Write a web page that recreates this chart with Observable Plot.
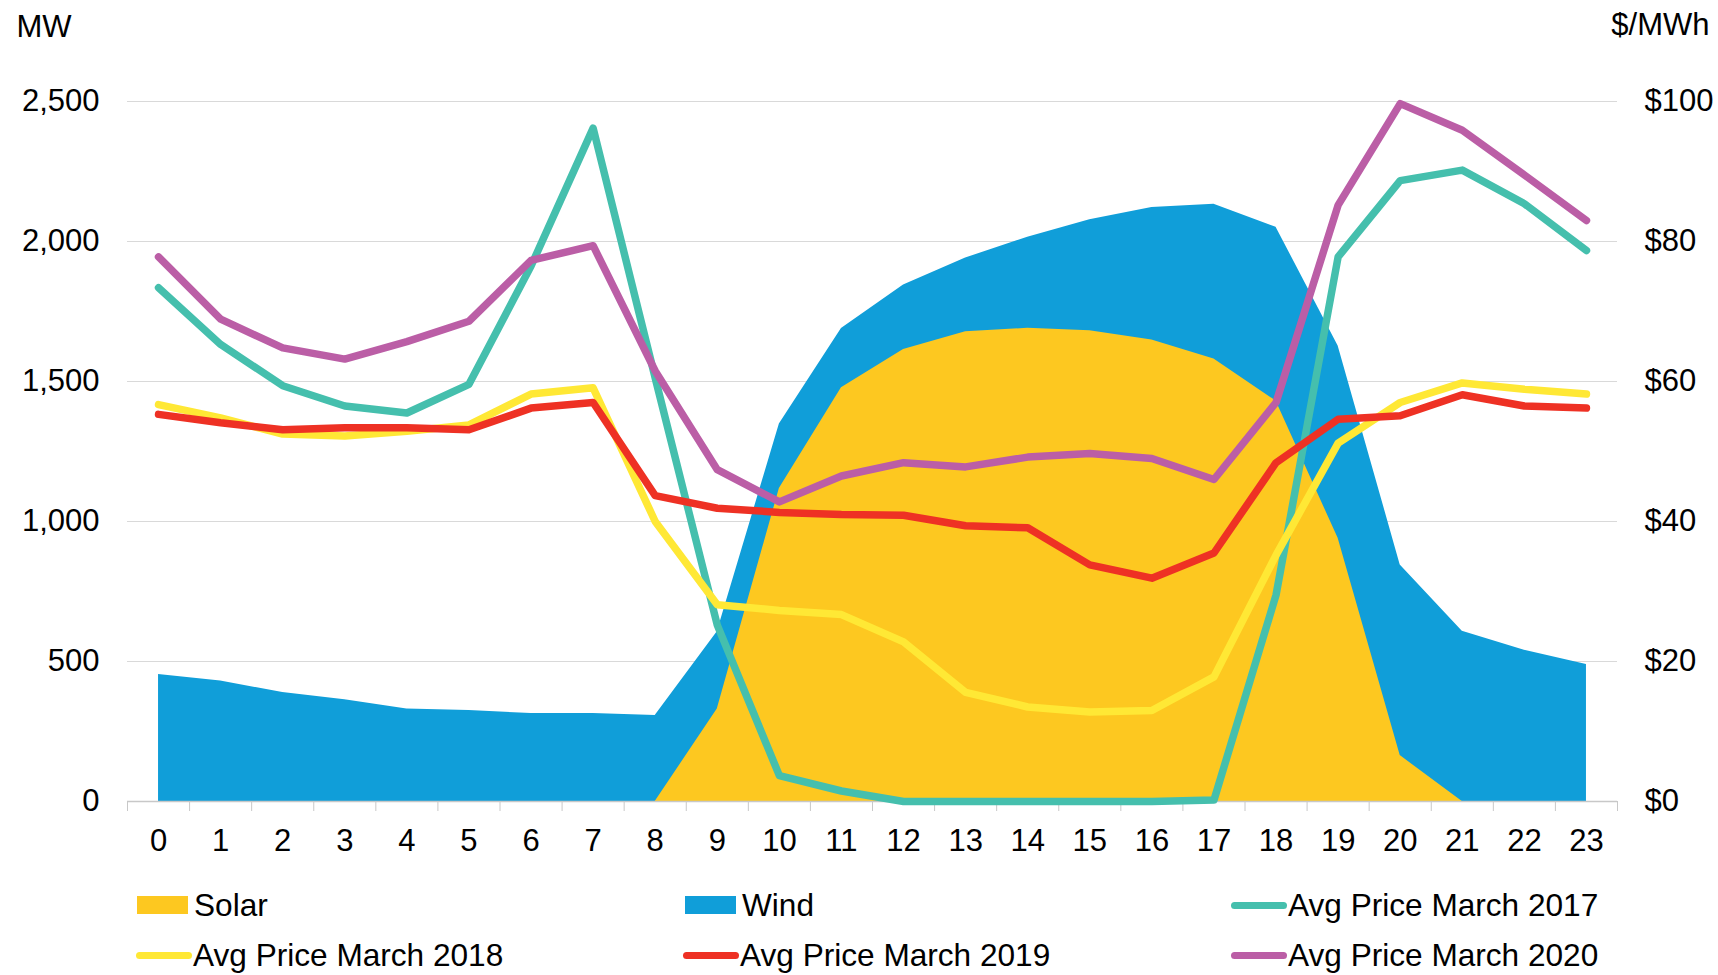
<!DOCTYPE html>
<html>
<head>
<meta charset="utf-8">
<script src="https://cdn.jsdelivr.net/npm/d3@7"></script>
<script src="https://cdn.jsdelivr.net/npm/@observablehq/plot@0.6"></script>
<style>
  html, body { margin: 0; padding: 0; background: #fff; }
  body { width: 1718px; height: 975px; overflow: hidden; font-family: "Liberation Sans", Arial, sans-serif; }
  #legend { position: relative; width: 1718px; height: 105px; font-size: 31.6px; color: #000; }
  .item { position: absolute; display: flex; align-items: center; height: 40px; white-space: nowrap; }
  .sw-area { width: 51px; height: 18px; margin-right: 6px; }
  .sw-line { width: 56px; height: 7px; border-radius: 4px; margin-right: 1px; }
</style>
</head>
<body>
<div id="chart"></div>
<div id="legend"></div>
<script>
const hours = [0,1,2,3,4,5,6,7,8,9,10,11,12,13,14,15,16,17,18,19,20,21,22,23];
const mwTicks = [0, 500, 1000, 1500, 2000, 2500];

const wind  = [454, 430, 389, 363, 330, 325, 314, 314, 307, 606, 1348, 1689, 1845, 1941, 2015, 2078, 2121, 2133, 2051, 1627, 845, 608, 540, 489];
const solar = [0, 0, 0, 0, 0, 0, 0, 0, 0, 330, 1118, 1478, 1614, 1678, 1690, 1681, 1648, 1580, 1430, 940, 164, 0, 0, 0];

const price2017 = [73.4, 65.3, 59.4, 56.5, 55.5, 59.6, 76.5, 96.2, 60.5, 25.2, 3.7, 1.5, 0, 0, 0, 0, 0, 0.2, 29.5, 77.8, 88.7, 90.2, 85.4, 78.7];
const price2018 = [56.7, 54.8, 52.5, 52.2, 52.9, 53.8, 58.2, 59.1, 40.0, 28.1, 27.3, 26.7, 22.8, 15.6, 13.5, 12.8, 13.0, 17.8, 35.2, 51.2, 57.0, 59.8, 58.9, 58.2];
const price2019 = [55.3, 54.1, 53.1, 53.4, 53.4, 53.1, 56.2, 57.0, 43.7, 41.9, 41.3, 41.0, 40.9, 39.4, 39.1, 33.8, 31.9, 35.5, 48.4, 54.6, 55.1, 58.1, 56.5, 56.2];
const price2020 = [77.8, 68.9, 64.8, 63.2, 65.7, 68.6, 77.3, 79.4, 61.5, 47.4, 42.8, 46.5, 48.4, 47.8, 49.2, 49.7, 49.0, 46.0, 57.0, 85.2, 99.7, 95.9, 89.5, 83.0];

const seriesNames = ["Solar", "Wind", "Avg Price March 2017", "Avg Price March 2018", "Avg Price March 2019", "Avg Price March 2020"];
const colors = {
  "Solar": "#FDC820",
  "Wind": "#109ED9",
  "Avg Price March 2017": "#45BFAD",
  "Avg Price March 2018": "#FFE835",
  "Avg Price March 2019": "#EE3124",
  "Avg Price March 2020": "#BB5EA6"
};

// $/MWh axis: $100 aligns with 2,500 MW
const priceToMW = 25;

const rows = hours.map((h, i) => ({hour: h, wind: wind[i], solar: solar[i]}));
const priceSeries = [
  ["Avg Price March 2017", price2017],
  ["Avg Price March 2018", price2018],
  ["Avg Price March 2019", price2019],
  ["Avg Price March 2020", price2020]
];
const boundaries = hours.map(h => h - 0.5).concat([hours[hours.length - 1] + 0.5]);

const lineMarks = priceSeries.map(([name, vals]) =>
  Plot.lineY(hours.map((h, i) => ({hour: h, price: vals[i]})), {
    x: "hour",
    y: d => d.price * priceToMW,
    stroke: colors[name],
    strokeWidth: 7.5,
    strokeLinejoin: "round",
    strokeLinecap: "round"
  })
);

const chart = Plot.plot({
  width: 1718,
  height: 870,
  marginLeft: 127,
  marginRight: 101,
  marginTop: 101,
  marginBottom: 69,
  x: {type: "linear", domain: [-0.5, 23.5], label: null},
  y: {domain: [0, 2500], label: null},
  style: {fontFamily: "'Liberation Sans', Arial, sans-serif", fontSize: "31px", color: "#000", background: "#fff"},
  marks: [
    Plot.gridY(mwTicks.filter(d => d > 0), {stroke: "#d9d9d9", strokeOpacity: 1, strokeWidth: 1}),
    Plot.areaY(rows, {x: "hour", y: "wind", fill: colors["Wind"]}),
    Plot.areaY(rows, {x: "hour", y: "solar", fill: colors["Solar"]}),
    Plot.ruleY([0], {stroke: "#c8c8c8", strokeWidth: 1.5}),
    Plot.axisX({ticks: boundaries, tickSize: 10, tickFormat: () => "", stroke: "#c8c8c8", label: null}),
    Plot.axisX({ticks: hours, tickSize: 0, tickPadding: 27, label: null, fontSize: 31}),
    Plot.axisY({ticks: mwTicks, anchor: "left", tickSize: 0, tickPadding: 28, tickFormat: d3.format(","), label: null, fontSize: 31}),
    Plot.axisY({ticks: mwTicks, anchor: "right", tickSize: 0, tickPadding: 27, tickFormat: d => "$" + (d / priceToMW), label: null, fontSize: 31}),
    ...lineMarks,
    Plot.text(["MW"], {frameAnchor: "top-left", textAnchor: "start", dx: -111, dy: -87, fontSize: 31}),
    Plot.text(["$/MWh"], {frameAnchor: "top-right", textAnchor: "end", dx: 92, dy: -89, fontSize: 31})
  ]
});
document.getElementById("chart").appendChild(chart);

// Legend
const legendLayout = [
  {name: "Solar", type: "area", left: 137, top: 15},
  {name: "Wind", type: "area", left: 685, top: 15},
  {name: "Avg Price March 2017", type: "line", left: 1231, top: 15},
  {name: "Avg Price March 2018", type: "line", left: 136, top: 65},
  {name: "Avg Price March 2019", type: "line", left: 683, top: 65},
  {name: "Avg Price March 2020", type: "line", left: 1231, top: 65}
];
const legend = document.getElementById("legend");
legendLayout.forEach(it => {
  const el = document.createElement("div");
  el.className = "item";
  el.style.left = it.left + "px";
  el.style.top = it.top + "px";
  const sw = document.createElement("div");
  sw.className = it.type === "area" ? "sw-area" : "sw-line";
  sw.style.background = colors[it.name];
  const tx = document.createElement("span");
  tx.textContent = it.name;
  el.appendChild(sw);
  el.appendChild(tx);
  legend.appendChild(el);
});
</script>
</body>
</html>
